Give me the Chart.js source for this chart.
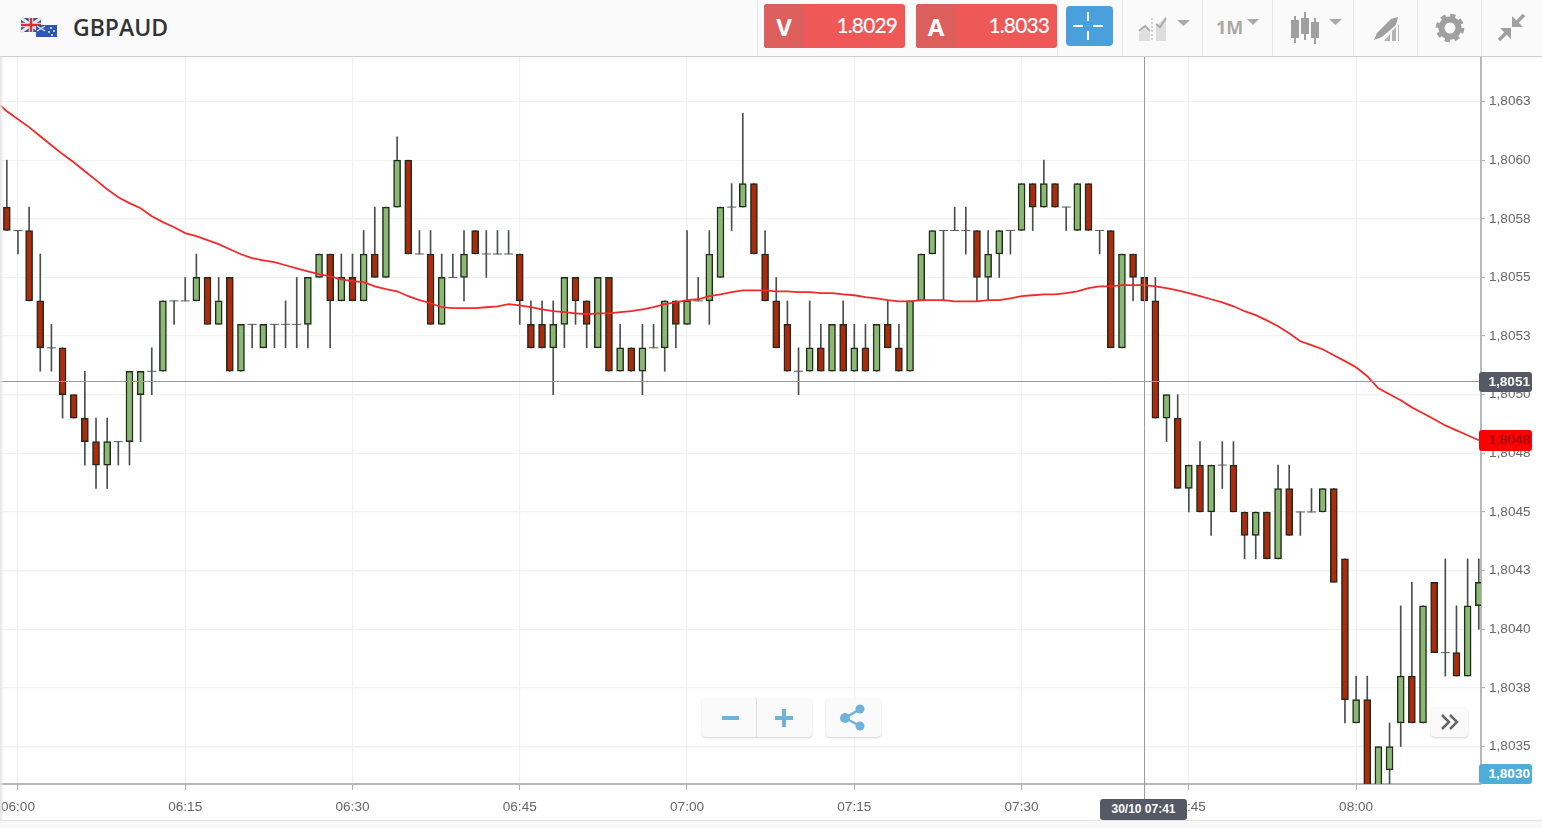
<!DOCTYPE html>
<html>
<head>
<meta charset="utf-8">
<title>GBPAUD</title>
<script src="https://cdn.jsdelivr.net/npm/chart.js@4/dist/chart.umd.min.js"></script>
<style>
html,body{margin:0;padding:0;background:#fff;overflow:hidden}
#wrap{position:relative;width:1542px;height:828px;font-family:"Liberation Sans",Arial,sans-serif}
canvas{position:absolute;left:0;top:0}
.abs{position:absolute}
#head{left:0;top:0;width:1542px;height:56px;background:#fafafa;border-bottom:1px solid #cfcfcf}
#edge{left:0;top:57px;width:4px;height:771px;background:linear-gradient(to right,#e4e4e4,rgba(255,255,255,0))}
#foot{left:0;top:820px;width:1542px;height:8px;background:#f8f8f8;border-top:1px solid #e2e2e2}
.sep{top:0;width:1px;height:56px;background:#e6e6e6}
#pair{left:73px;top:11px;font:600 23px "Open Sans",sans-serif;color:#333}
.quote{top:4px;width:141px;height:44px;background:#ee5957;border-radius:3px;overflow:hidden;color:#fff}
.quote b{position:absolute;left:0;top:0;width:40px;height:44px;background:#dc5f5d;font:700 24px/46px "Open Sans",sans-serif;text-align:center}
.quote span{position:absolute;right:8px;top:0;font:500 21px/42px Lato,sans-serif;letter-spacing:-.9px}
#cross{left:1066px;top:6px;width:47px;height:40px;background:#4a9fdd;border-radius:4px}
.tool{color:#a9a9a9;font:700 18px "Open Sans",sans-serif}
.tag{left:1479px;width:51px;padding-right:2px;border-radius:3px;text-align:right;font:700 13.6px/20px "Liberation Sans",Arial,sans-serif}
#date{left:1100px;top:799px;width:87px;height:21px;background:#555865;color:#fff;border-radius:3px;text-align:center;font:700 12px/21px "Liberation Sans",Arial,sans-serif}
.btn{background:#fafafa;border-radius:4px;box-shadow:0 1px 2px rgba(0,0,0,.18)}
</style>
</head>
<body>
<div id="wrap">
<canvas id="chart" width="1542" height="828"></canvas>
<div id="edge" class="abs"></div>
<div id="foot" class="abs"></div>
<div id="head" class="abs"></div>
<div class="abs sep" style="left:757px"></div>
<div class="abs sep" style="left:1057px"></div>
<div class="abs sep" style="left:1122px"></div>
<div class="abs sep" style="left:1202px"></div>
<div class="abs sep" style="left:1272px"></div>
<div class="abs sep" style="left:1353px"></div>
<div class="abs sep" style="left:1417px"></div>
<div class="abs sep" style="left:1481px"></div>

<svg class="abs" style="left:20px;top:17px" width="38" height="21" viewBox="0 0 38 21">
  <rect x="1" y="1" width="20" height="14" fill="#3f4f9a"/>
  <path d="M1 1L21 15M21 1L1 15" stroke="#e8e8e8" stroke-width="3"/>
  <path d="M11 1V15M1 8H21" stroke="#e8e8e8" stroke-width="4.5"/>
  <path d="M11 1V15M1 8H21" stroke="#d2333f" stroke-width="2.5"/>
  <rect x="16" y="8" width="21" height="12" fill="#2f55b5"/>
  <path d="M17 9L25 14M25 9L17 14" stroke="#e6e6e6" stroke-width="1.4"/>
  <circle cx="31" cy="11" r=".9" fill="#fff"/><circle cx="34" cy="14" r=".9" fill="#fff"/><circle cx="29" cy="15" r=".9" fill="#fff"/><circle cx="32" cy="18" r=".9" fill="#fff"/>
</svg>
<div id="pair" class="abs">GBPAUD</div>

<div class="abs quote" style="left:764px"><b>V</b><span>1.8029</span></div>
<div class="abs quote" style="left:916px"><b>A</b><span>1.8033</span></div>
<div id="cross" class="abs">
  <svg width="47" height="40"><path d="M22 6V15M22 25V34M7 20H17M27 20H37" stroke="#fff" stroke-width="2"/></svg>
</div>

<svg class="abs" style="left:1138px;top:14px" width="54" height="30" viewBox="0 0 54 30" fill="none">
  <path d="M1 27V19L7 14L12 19V27ZM18 27V12L28 3V27Z" fill="#dedede"/>
  <path d="M1 17L7 12L12 17M18 10L22 13L28 4" stroke="#a9a9a9" stroke-width="2"/>
  <path d="M14 4V27" stroke="#a9a9a9" stroke-width="1" stroke-dasharray="2 2"/>
  <path d="M39 6H52L45.500 12Z" fill="#a9a9a9"/>
</svg>
<div class="abs tool" style="left:1216px;top:15px">1M</div>
<svg class="abs" style="left:1246px;top:18px" width="14" height="8"><path d="M1 1H13L7 7Z" fill="#a9a9a9"/></svg>
<svg class="abs" style="left:1290px;top:12px" width="54" height="34" viewBox="0 0 54 34" fill="#a0a0a0">
  <path d="M4 4H6V8H9V26H6V31H4V26H1V8H4Z"/><path d="M14 0H16V6H19V22H16V28H14V22H11V6H14Z"/><path d="M24 6H26V10H29V26H26V32H24V26H21V10H24Z"/>
  <path d="M39 7H52L45.500 13Z" fill="#a9a9a9"/>
</svg>
<svg class="abs" style="left:1372px;top:16px" width="30" height="26" viewBox="0 0 30 26" fill="#a0a0a0">
  <path d="M2 24L5 17L19 3L26 1L24 9L10 21Z"/><path d="M12 25L18 18V25ZM20 25V15L24 11V25ZM26 25V9L27 9V25Z" fill="#b4b4b4"/>
</svg>
<svg class="abs" style="left:1435px;top:13px" width="30" height="30" viewBox="0 0 30 30">
  <circle cx="15" cy="15" r="8.500" fill="none" stroke="#a0a0a0" stroke-width="6"/>
  <circle cx="15" cy="15" r="12.500" fill="none" stroke="#a0a0a0" stroke-width="3.500" stroke-dasharray="5.200 4.600"/>
</svg>
<svg class="abs" style="left:1497px;top:12px" width="30" height="30" viewBox="0 0 30 30" fill="none" stroke="#a0a0a0" stroke-width="3.500">
  <path d="M17 13L27 3M2 28L12 18"/>
  <path d="M15 4L15 15L26 15L15 4ZM14 16L3 16L14 27Z" fill="#a0a0a0" stroke-width="0"/>
</svg>

<div class="abs btn" style="left:702px;top:698px;width:110px;height:39px"></div>
<div class="abs" style="left:756px;top:698px;width:1px;height:39px;background:#dedede"></div>
<svg class="abs" style="left:702px;top:698px" width="110" height="39"><path d="M20 20H37M73 20H91M82 11V29" stroke="#6fb2da" stroke-width="4"/></svg>
<div class="abs btn" style="left:826px;top:698px;width:55px;height:39px"></div>
<svg class="abs" style="left:826px;top:698px" width="55" height="39">
  <path d="M19 20L34 11M19 20L34 28" stroke="#6fb2da" stroke-width="2.500"/>
  <circle cx="19" cy="20" r="5" fill="#6fb2da"/><circle cx="34" cy="11" r="4.500" fill="#6fb2da"/><circle cx="34" cy="28" r="4.500" fill="#6fb2da"/>
</svg>
<div class="abs btn" style="left:1431px;top:707px;width:37px;height:30px"></div>
<svg class="abs" style="left:1431px;top:707px" width="37" height="30" fill="none" stroke="#666" stroke-width="2.500">
  <path d="M11 8L18 15L11 22M19 8L26 15L19 22"/>
</svg>

<div class="abs tag" style="top:372px;height:20px;background:#555865;color:#fff">1,8051</div>
<div class="abs tag" style="top:430px;height:21px;background:#ff0000;color:#7c0000;font-weight:400">1,8048</div>
<div class="abs tag" style="top:764px;height:20px;background:#4fadd9;color:#fff">1,8030</div>
<div id="date" class="abs">30/10 07:41</div>
</div>

<script>
// minutes counted from 06:00, the first candle is 05:59
const firstMinute = -1

const opens = [1.8058,1.8057,1.8057,1.8054,1.8052,1.8052,1.8050,1.8049,1.8048,1.8047,1.8048,1.8048,1.8050,1.8051,1.8051,1.8054,1.8054,1.8054,1.8055,1.8053,1.8055,1.8051,1.8053,1.8052,1.8053,1.8053,1.8053,1.8053,1.8055,1.8056,1.8054,1.8055,1.8054,1.8056,1.8055,1.8058,1.8060,1.8056,1.8056,1.8053,1.8055,1.8055,1.8057,1.8056,1.8056,1.8056,1.8056,1.8053,1.8053,1.8052,1.8053,1.8055,1.8054,1.8052,1.8055,1.8051,1.8052,1.8051,1.8052,1.8052,1.8054,1.8053,1.8054,1.8054,1.8055,1.8058,1.8058,1.8059,1.8056,1.8054,1.8053,1.8051,1.8051,1.8052,1.8051,1.8053,1.8051,1.8052,1.8051,1.8053,1.8052,1.8051,1.8054,1.8056,1.8057,1.8057,1.8057,1.8057,1.8055,1.8056,1.8057,1.8057,1.8059,1.8058,1.8059,1.8058,1.8057,1.8059,1.8057,1.8057,1.8052,1.8056,1.8055,1.8054,1.8049,1.8049,1.8046,1.8047,1.8045,1.8047,1.8047,1.8045,1.8044,1.8045,1.8043,1.8046,1.8045,1.8045,1.8045,1.8046,1.8043,1.8036,1.8037,1.8033,1.8034,1.8036,1.8038,1.8036,1.8042,1.8039,1.8039,1.8038,1.8041]
const highs = [1.8060,1.8057,1.8058,1.8056,1.8053,1.8052,1.8050,1.8051,1.8049,1.8049,1.8048,1.8051,1.8051,1.8052,1.8054,1.8054,1.8055,1.8056,1.8055,1.8055,1.8055,1.8053,1.8053,1.8053,1.8053,1.8054,1.8055,1.8055,1.8056,1.8056,1.8056,1.8056,1.8057,1.8058,1.8058,1.8061,1.8060,1.8057,1.8057,1.8056,1.8056,1.8057,1.8057,1.8057,1.8057,1.8057,1.8056,1.8054,1.8054,1.8054,1.8055,1.8055,1.8054,1.8055,1.8055,1.8053,1.8052,1.8053,1.8053,1.8054,1.8054,1.8057,1.8055,1.8057,1.8058,1.8059,1.8062,1.8059,1.8057,1.8055,1.8054,1.8052,1.8054,1.8053,1.8053,1.8054,1.8053,1.8053,1.8053,1.8054,1.8053,1.8054,1.8056,1.8057,1.8057,1.8058,1.8058,1.8057,1.8057,1.8057,1.8057,1.8059,1.8059,1.8060,1.8059,1.8058,1.8059,1.8059,1.8057,1.8057,1.8056,1.8056,1.8055,1.8055,1.8050,1.8050,1.8047,1.8048,1.8047,1.8048,1.8048,1.8045,1.8045,1.8045,1.8047,1.8047,1.8045,1.8046,1.8046,1.8046,1.8043,1.8038,1.8038,1.8035,1.8036,1.8041,1.8042,1.8041,1.8042,1.8043,1.8041,1.8043,1.8043]
const lows = [1.8057,1.8056,1.8054,1.8051,1.8051,1.8049,1.8049,1.8047,1.8046,1.8046,1.8047,1.8047,1.8048,1.8050,1.8051,1.8053,1.8054,1.8054,1.8053,1.8053,1.8051,1.8051,1.8052,1.8052,1.8052,1.8052,1.8052,1.8052,1.8055,1.8052,1.8054,1.8054,1.8054,1.8055,1.8055,1.8058,1.8056,1.8056,1.8053,1.8053,1.8055,1.8054,1.8056,1.8055,1.8056,1.8056,1.8053,1.8052,1.8052,1.8050,1.8052,1.8053,1.8052,1.8052,1.8051,1.8051,1.8051,1.8050,1.8052,1.8051,1.8052,1.8053,1.8054,1.8053,1.8055,1.8057,1.8058,1.8056,1.8054,1.8052,1.8051,1.8050,1.8051,1.8051,1.8051,1.8051,1.8051,1.8051,1.8051,1.8052,1.8051,1.8051,1.8054,1.8056,1.8054,1.8057,1.8056,1.8054,1.8054,1.8055,1.8056,1.8057,1.8057,1.8058,1.8058,1.8057,1.8057,1.8057,1.8056,1.8052,1.8052,1.8054,1.8054,1.8049,1.8048,1.8046,1.8045,1.8045,1.8044,1.8046,1.8045,1.8043,1.8043,1.8043,1.8043,1.8044,1.8044,1.8045,1.8045,1.8042,1.8036,1.8036,1.8033,1.8033,1.8033,1.8035,1.8036,1.8036,1.8039,1.8038,1.8038,1.8038,1.8040]
const closes = [1.8057,1.8057,1.8054,1.8052,1.8052,1.8050,1.8049,1.8048,1.8047,1.8048,1.8048,1.8051,1.8051,1.8051,1.8054,1.8054,1.8054,1.8055,1.8053,1.8054,1.8051,1.8053,1.8053,1.8053,1.8053,1.8053,1.8053,1.8055,1.8056,1.8054,1.8055,1.8054,1.8056,1.8055,1.8058,1.8060,1.8056,1.8056,1.8053,1.8055,1.8055,1.8056,1.8056,1.8056,1.8056,1.8056,1.8054,1.8052,1.8052,1.8053,1.8055,1.8054,1.8053,1.8055,1.8051,1.8052,1.8051,1.8052,1.8052,1.8054,1.8053,1.8054,1.8054,1.8056,1.8058,1.8058,1.8059,1.8056,1.8054,1.8052,1.8051,1.8051,1.8052,1.8051,1.8053,1.8051,1.8052,1.8051,1.8053,1.8052,1.8051,1.8054,1.8056,1.8057,1.8057,1.8057,1.8057,1.8055,1.8056,1.8057,1.8057,1.8059,1.8058,1.8059,1.8058,1.8058,1.8059,1.8057,1.8057,1.8052,1.8056,1.8055,1.8054,1.8049,1.8050,1.8046,1.8047,1.8045,1.8047,1.8047,1.8045,1.8044,1.8045,1.8043,1.8046,1.8044,1.8045,1.8045,1.8046,1.8042,1.8037,1.8037,1.8033,1.8035,1.8035,1.8038,1.8036,1.8041,1.8039,1.8039,1.8038,1.8041,1.8042]

// red moving average, one reading per candle plus the bit left of the first one
const maLeadMinute = -1.61
const maLead = 1.806235
const maValues = [1.806209,1.806175,1.806141,1.806102,1.806064,1.806026,1.805991,1.805953,1.805915,1.805876,1.805842,1.805817,1.805795,1.805761,1.805736,1.805714,1.805689,1.805676,1.805659,1.805642,1.805620,1.805599,1.805582,1.805573,1.805565,1.805552,1.805539,1.805526,1.805514,1.805505,1.805492,1.805484,1.805480,1.805462,1.805450,1.805441,1.805420,1.805403,1.805390,1.805373,1.805369,1.805369,1.805369,1.805373,1.805377,1.805386,1.805381,1.805373,1.805364,1.805356,1.805352,1.805347,1.805343,1.805347,1.805347,1.805352,1.805356,1.805364,1.805373,1.805386,1.805394,1.805403,1.805407,1.805420,1.805428,1.805437,1.805445,1.805445,1.805445,1.805441,1.805441,1.805437,1.805437,1.805433,1.805433,1.805428,1.805424,1.805416,1.805411,1.805403,1.805398,1.805398,1.805403,1.805403,1.805403,1.805398,1.805398,1.805398,1.805403,1.805403,1.805411,1.805420,1.805424,1.805428,1.805428,1.805433,1.805441,1.805454,1.805462,1.805462,1.805467,1.805467,1.805467,1.805462,1.805454,1.805445,1.805433,1.805420,1.805407,1.805394,1.805377,1.805356,1.805339,1.805317,1.805292,1.805262,1.805228,1.805211,1.805194,1.805168,1.805143,1.805117,1.805079,1.805027,1.805002,1.804976,1.804946,1.804921,1.804895,1.804869,1.804848,1.804827,1.804806]

const xTickMinutes = [0,15,30,45,60,75,90,105,120]
const xTickLabels = ['06:00','06:15','06:30','06:45','07:00','07:15','07:30','07:45','08:00']
const yTickValues = [1.80625,1.8060,1.80575,1.8055,1.80525,1.8050,1.80475,1.8045,1.80425,1.8040,1.80375,1.8035]
const yTickLabels = ['1,8063','1,8060','1,8058','1,8055','1,8053','1,8050','1,8048','1,8045','1,8043','1,8040','1,8038','1,8035']

const crossMinute = 101
const crossValue = 1.80506

const RED = '#ad2a0d'
const GREEN = '#8bb873'
const minutes = opens.map((o, i) => firstMinute + i)

const bodies = []
const bodyColors = []
const dojis = []
opens.forEach((o, i) => {
    if (o === closes[i]) {
        dojis.push({ x: minutes[i], y: o })
    } else {
        bodies.push({ x: minutes[i], y: [o, closes[i]] })
        bodyColors.push(closes[i] > o ? GREEN : RED)
    }
})

const crosshair = {
    id: 'crosshair',
    afterDatasetsDraw(chart) {
        const { ctx, chartArea, scales } = chart
        const px = Math.round(scales.x.getPixelForValue(crossMinute)) + 0.5
        const py = Math.round(scales.y.getPixelForValue(crossValue)) + 0.5
        ctx.save()
        ctx.strokeStyle = '#9a9a9a'
        ctx.lineWidth = 1
        ctx.beginPath()
        ctx.moveTo(px, chartArea.top)
        ctx.lineTo(px, 800)
        ctx.moveTo(chartArea.left, py)
        ctx.lineTo(chartArea.right, py)
        ctx.stroke()
        ctx.restore()
    }
}

new Chart(document.getElementById('chart').getContext('2d'), {
    type: 'bar',
    plugins: [crosshair],
    data: {
        datasets: [
            {
                type: 'line',
                data: [{ x: maLeadMinute, y: maLead }].concat(maValues.map((v, i) => ({ x: minutes[i], y: v }))),
                borderColor: '#f02a2a',
                borderWidth: 1.8,
                pointRadius: 0,
                tension: 0,
                order: 1
            },
            {
                type: 'scatter',
                data: dojis,
                pointStyle: 'line',
                pointRadius: 4.5,
                borderColor: '#5a5a5a',
                backgroundColor: '#5a5a5a',
                pointBorderWidth: 1,
                showLine: false,
                order: 3
            },
            {
                data: bodies,
                grouped: false,
                barThickness: 7,
                backgroundColor: bodyColors,
                borderColor: '#1f2b1c',
                borderWidth: 1.5,
                borderSkipped: false,
                order: 2
            },
            {
                data: minutes.map((m, i) => ({ x: m, y: [lows[i], highs[i]] })),
                grouped: false,
                barThickness: 1,
                backgroundColor: '#4a4f4c',
                borderWidth: 0,
                order: 4
            }
        ]
    },
    options: {
        responsive: false,
        animation: false,
        devicePixelRatio: 1,
        layout: { autoPadding: false, padding: { top: 57, left: 0, right: 0, bottom: 0 } },
        plugins: { legend: { display: false }, tooltip: { enabled: false } },
        events: [],
        scales: {
            x: {
                type: 'linear',
                min: -1.61,
                max: 131.2,
                offset: false,
                afterFit: (s) => { s.height = 44; s.paddingLeft = 0; s.paddingRight = 0 },
                afterBuildTicks: (s) => { s.ticks = xTickMinutes.map((value) => ({ value })) },
                grid: { offset: false, color: '#f2f2f2', lineWidth: 1.2, tickColor: '#a8a8a8', tickLength: 6, tickWidth: 1 },
                border: { color: '#b8b8b8', width: 2 },
                ticks: {
                    autoSkip: false,
                    maxRotation: 0,
                    padding: 9,
                    color: '#666',
                    font: { family: '"Liberation Sans", Arial, sans-serif', size: 13.6 },
                    callback: (v) => xTickLabels[xTickMinutes.indexOf(v)]
                }
            },
            y: {
                type: 'linear',
                position: 'right',
                min: 1.80334,
                max: 1.80644,
                beginAtZero: false,
                afterFit: (s) => { s.width = 61; s.paddingTop = 0; s.paddingBottom = 0 },
                afterBuildTicks: (s) => { s.ticks = yTickValues.map((value) => ({ value })) },
                grid: { color: '#f2f2f2', lineWidth: 1.2, tickColor: '#a8a8a8', tickLength: 4, tickWidth: 1 },
                border: { color: '#b8b8b8', width: 2 },
                ticks: {
                    autoSkip: false,
                    padding: 4,
                    color: '#666',
                    font: { family: '"Liberation Sans", Arial, sans-serif', size: 13.6 },
                    callback: (v) => yTickLabels[yTickValues.indexOf(v)]
                }
            }
        }
    }
})
</script>
</body>
</html>
